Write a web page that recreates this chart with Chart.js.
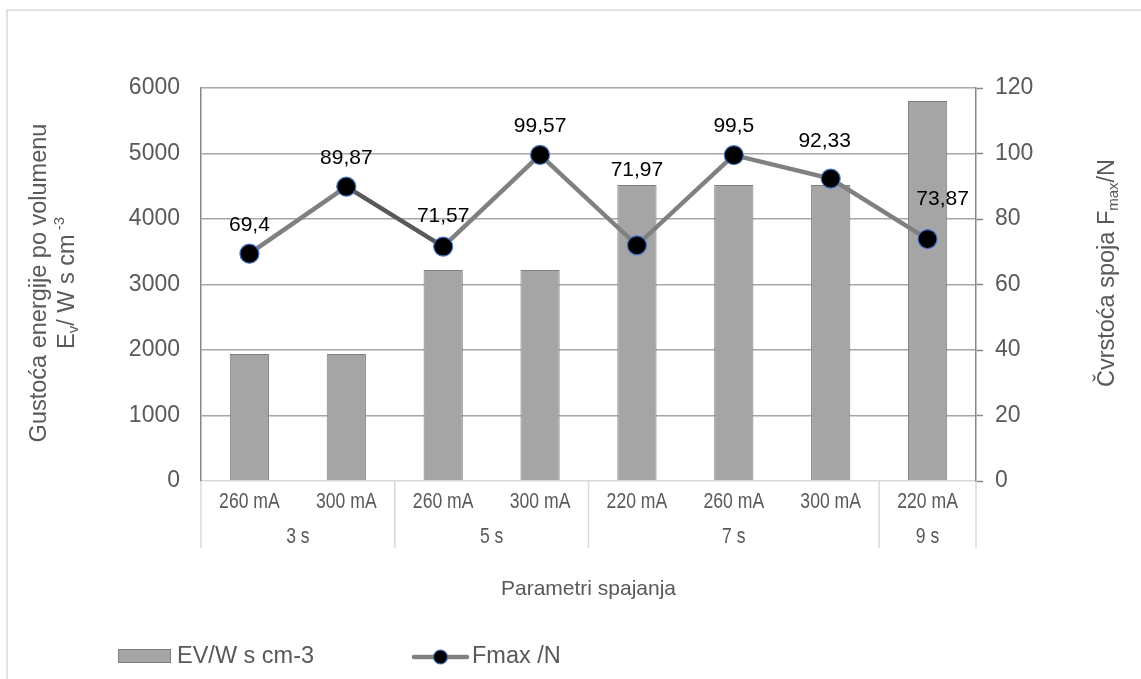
<!DOCTYPE html>
<html>
<head>
<meta charset="utf-8">
<script src="https://cdn.jsdelivr.net/npm/chart.js@4"></script>
<style>
  body { margin: 0; background: #fff; }
  #chart { display: block; }
</style>
</head>
<body>
<canvas id="chart" width="1141" height="679"></canvas>
<script>
// data
const currentLabels = ['260 mA', '300 mA', '260 mA', '300 mA', '220 mA', '260 mA', '300 mA', '220 mA'];
const timeGroups = ['3 s', '5 s', '7 s', '9 s'];
const timeGroupSizes = [2, 2, 3, 1];
const energyDensity = [1940, 1940, 3220, 3220, 4520, 4520, 4520, 5800];
const fmax = [69.4, 89.87, 71.57, 99.57, 71.97, 99.5, 92.33, 73.87];
const leftTicks = [0, 1000, 2000, 3000, 4000, 5000, 6000];
const rightTicks = [0, 20, 40, 60, 80, 100, 120];

const FONT = '"Liberation Sans", Arial, sans-serif';
const TXT = '#595959';

// label nudges (dx, dy) for data labels, like the manual placement in the original
const labelNudge = [[0, -29], [0, -28], [0, -30], [0, -29], [0, -75], [0, -29], [-6, -37], [15, -40]];

function richText(ctx, runs, cx, cy) {
  // runs: [text, size, baselineShift]
  let total = 0;
  runs.forEach(r => { ctx.font = r[1] + 'px ' + FONT; total += ctx.measureText(r[0]).width; });
  let x = cx - total / 2;
  ctx.textAlign = 'left';
  ctx.textBaseline = 'middle';
  runs.forEach(r => {
    ctx.font = r[1] + 'px ' + FONT;
    ctx.fillText(r[0], x, cy + r[2]);
    x += ctx.measureText(r[0]).width;
  });
}

// narrow text, the x labels in the original are squeezed
function narrowText(ctx, text, cx, cy) {
  ctx.save();
  ctx.translate(cx, cy);
  ctx.scale(0.8, 1);
  ctx.fillText(text, 0, 0);
  ctx.restore();
}

const extras = {
  id: 'extras',
  beforeDraw(chart) {
    const ctx = chart.ctx;
    ctx.save();
    ctx.fillStyle = '#fff';
    ctx.fillRect(0, 0, chart.width, chart.height);
    ctx.strokeStyle = '#d9d9d9';
    ctx.lineWidth = 1.5;
    ctx.strokeRect(7, 10, 2000, 2000);
    ctx.restore();
  },
  afterDatasetsDraw(chart) {
    const ctx = chart.ctx;
    const meta = chart.getDatasetMeta(0);
    ctx.save();
    ctx.fillStyle = '#000';
    ctx.font = '21px ' + FONT;
    ctx.textAlign = 'center';
    ctx.textBaseline = 'middle';
    meta.data.forEach((pt, i) => {
      const n = labelNudge[i];
      ctx.fillText(String(fmax[i]).replace('.', ','), pt.x + n[0], pt.y + n[1]);
    });
    ctx.restore();
  },
  afterDraw(chart) {
    const ctx = chart.ctx;
    const x = chart.scales.x;
    const area = chart.chartArea;
    ctx.save();

    // category separators
    ctx.strokeStyle = '#d9d9d9';
    ctx.lineWidth = 1.5;
    const bounds = [area.left];
    let idx = 0;
    timeGroupSizes.forEach(s => {
      idx += s;
      if (idx < currentLabels.length) {
        bounds.push((x.getPixelForValue(idx - 1) + x.getPixelForValue(idx)) / 2);
      }
    });
    bounds.push(area.right);
    bounds.forEach(bx => {
      ctx.beginPath();
      ctx.moveTo(bx, area.bottom);
      ctx.lineTo(bx, area.bottom + 67);
      ctx.stroke();
    });

    // x labels
    ctx.fillStyle = TXT;
    ctx.textAlign = 'center';
    ctx.textBaseline = 'middle';
    ctx.font = '22px ' + FONT;
    currentLabels.forEach((l, i) => narrowText(ctx, l, x.getPixelForValue(i), area.bottom + 21));
    idx = 0;
    timeGroups.forEach((g, gi) => {
      const a = idx, b = idx + timeGroupSizes[gi] - 1;
      narrowText(ctx, g, (x.getPixelForValue(a) + x.getPixelForValue(b)) / 2, area.bottom + 56);
      idx += timeGroupSizes[gi];
    });

    // axis titles
    ctx.font = '21px ' + FONT;
    ctx.fillText('Parametri spajanja', (area.left + area.right) / 2, 589);

    ctx.save();
    ctx.translate(40, 283);
    ctx.rotate(-Math.PI / 2);
    richText(ctx, [['Gustoća energije po volumenu', 23.5, 0]], 0, 0);
    ctx.restore();
    ctx.save();
    ctx.translate(68, 283);
    ctx.rotate(-Math.PI / 2);
    richText(ctx, [['E', 23.5, 0], ['v', 15, 6], ['/ W s cm', 23.5, 0], [' -3', 15, -8]], 0, 0);
    ctx.restore();
    ctx.save();
    ctx.translate(1108, 273);
    ctx.rotate(-Math.PI / 2);
    richText(ctx, [['Čvrstoća spoja F', 23.5, 0], ['max', 15, 6], ['/N', 23.5, 0]], 0, 0);
    ctx.restore();

    // legend
    ctx.fillStyle = '#a5a5a5';
    ctx.strokeStyle = '#7f7f7f';
    ctx.lineWidth = 1;
    ctx.fillRect(118, 649, 53, 14);
    ctx.strokeRect(118.5, 649.5, 52, 13);
    ctx.fillStyle = TXT;
    ctx.textAlign = 'left';
    ctx.font = '23.5px ' + FONT;
    ctx.fillText('EV/W s cm-3', 177, 657);
    ctx.strokeStyle = '#808080';
    ctx.lineWidth = 4.5;
    ctx.lineCap = 'round';
    ctx.beginPath();
    ctx.moveTo(414, 657);
    ctx.lineTo(467, 657);
    ctx.stroke();
    ctx.beginPath();
    ctx.arc(440.5, 657, 7, 0, Math.PI * 2);
    ctx.fillStyle = '#000';
    ctx.fill();
    ctx.strokeStyle = '#4472c4';
    ctx.lineWidth = 1.2;
    ctx.stroke();
    ctx.fillStyle = TXT;
    ctx.fillText('Fmax /N', 472, 657);

    ctx.restore();
  }
};

const ctx = document.getElementById('chart').getContext('2d');
const chart = new Chart(ctx, {
  type: 'bar',
  data: {
    labels: currentLabels,
    datasets: [{
      type: 'line',
      label: 'Fmax /N',
      data: fmax,
      yAxisID: 'y1',
      borderColor: '#808080',
      borderWidth: 4.5,
      pointRadius: 9.5,
      pointBackgroundColor: '#000',
      pointBorderColor: '#4472c4',
      pointBorderWidth: 1.2,
      segment: {
        borderColor: c => (c.p0DataIndex === 1 ? '#595959' : '#808080')
      },
      order: 0
    }, {
      label: 'EV/W s cm-3',
      data: energyDensity,
      yAxisID: 'y',
      backgroundColor: '#a5a5a5',
      borderColor: '#7f7f7f',
      borderWidth: 1,
      barPercentage: 0.405,
      categoryPercentage: 1,
      order: 1
    }]
  },
  options: {
    responsive: false,
    animation: false,
    layout: { padding: { top: 88, left: 0, right: 0, bottom: 0 } },
    plugins: {
      legend: { display: false },
      tooltip: { enabled: false }
    },
    scales: {
      x: {
        offset: true,
        ticks: { display: false },
        grid: { display: false },
        border: { display: false },
        afterFit: s => { s.height = 198; }
      },
      y: {
        position: 'left',
        min: 0,
        max: 6000,
        afterBuildTicks: s => { s.ticks = leftTicks.map(v => ({ value: v })); },
        ticks: { color: TXT, font: { family: FONT, size: 23 }, padding: 21, callback: v => String(v) },
        grid: {
          drawTicks: false,
          color: c => (c.tick && c.tick.value === 0 ? '#d9d9d9' : '#a6a6a6'),
          lineWidth: 1.5
        },
        border: { color: '#868686', width: 1.5 },
        afterFit: s => { s.width = 201; }
      },
      y1: {
        position: 'right',
        min: 0,
        max: 120,
        afterBuildTicks: s => { s.ticks = rightTicks.map(v => ({ value: v })); },
        ticks: { color: TXT, font: { family: FONT, size: 23 }, padding: 12, callback: v => String(v) },
        grid: {
          drawOnChartArea: false,
          drawTicks: true,
          tickLength: 7,
          tickColor: '#868686',
          tickWidth: 1.5
        },
        border: { color: '#868686', width: 1.5 },
        afterFit: s => { s.width = 165; }
      }
    }
  },
  plugins: [extras]
});
</script>
</body>
</html>
